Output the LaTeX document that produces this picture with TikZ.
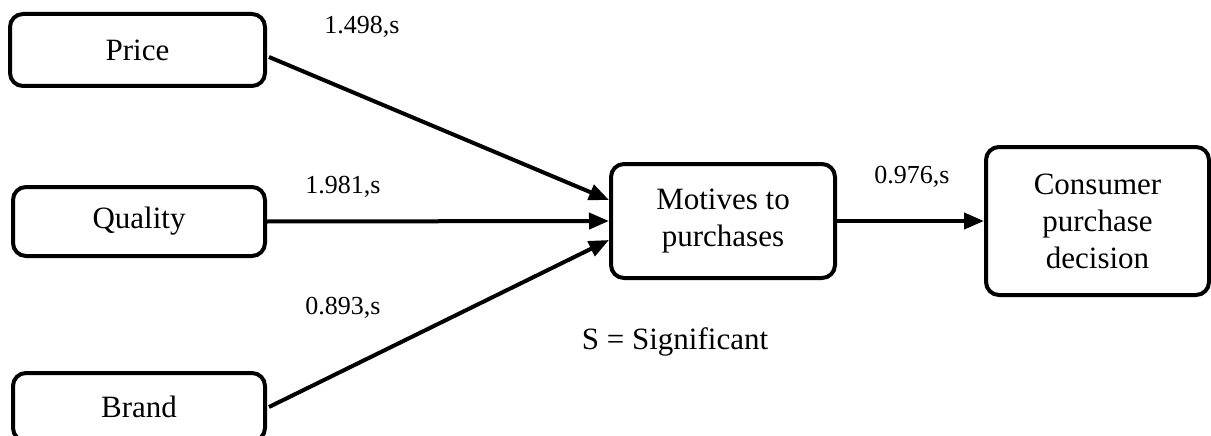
\documentclass[tikz,border=0pt]{standalone}
\usepackage{fontspec}
\setmainfont{Liberation Serif}
\usetikzlibrary{arrows.meta,calc}
\begin{document}
\begin{tikzpicture}[x=1pt,y=-1pt,
  box/.style={draw=black,line width=4pt,rounded corners=13pt,fill=white,align=center,
    font=\fontsize{31}{37}\selectfont,inner sep=0pt},
  conn/.style={line width=4pt,-{Triangle[length=20pt,width=16pt]}},
  lbl/.style={font=\fontsize{26}{30}\selectfont,inner sep=0pt},
  note/.style={font=\fontsize{31}{37}\selectfont,inner sep=0pt}]
\useasboundingbox (0,0) rectangle (1211,436);
\begin{scope}
\clip (0,0) rectangle (1211,436);
\node[box,minimum width=255pt,minimum height=72pt] (price) at (137.5,50) {Price};
\node[box,minimum width=252pt,minimum height=69pt] (quality) at (139,221.5) {Quality};
\node[box,minimum width=252pt,minimum height=68pt] (brand) at (139,407) {Brand};
\node[box,minimum width=224pt,minimum height=114pt] (mot) at (723,221) {Motives to\\purchases};
\node[box,minimum width=223pt,minimum height=148pt] (cons) at (1097.5,221) {Consumer\\purchase\\decision};

\draw[conn] ($(price.east)+(2,7)$) -- ($(mot.west)+(0,-21)$);
\draw[conn] (quality.east) -- (mot.west);
\draw[conn] ($(brand.east)+(2,0)$) -- ($(mot.west)+(0,19)$);
\draw[conn] (mot.east) -- (cons.west);

\node[lbl] (l1) at (362,27) {1.498,s};
\node[lbl] (l2) at (343,187) {1.981,s};
\node[lbl] (l3) at (343,308) {0.893,s};
\node[lbl] (l4) at (912,177) {0.976,s};
\node[note] (sig) at (675,342) {S = Significant};
\end{scope}
\end{tikzpicture}
\end{document}
